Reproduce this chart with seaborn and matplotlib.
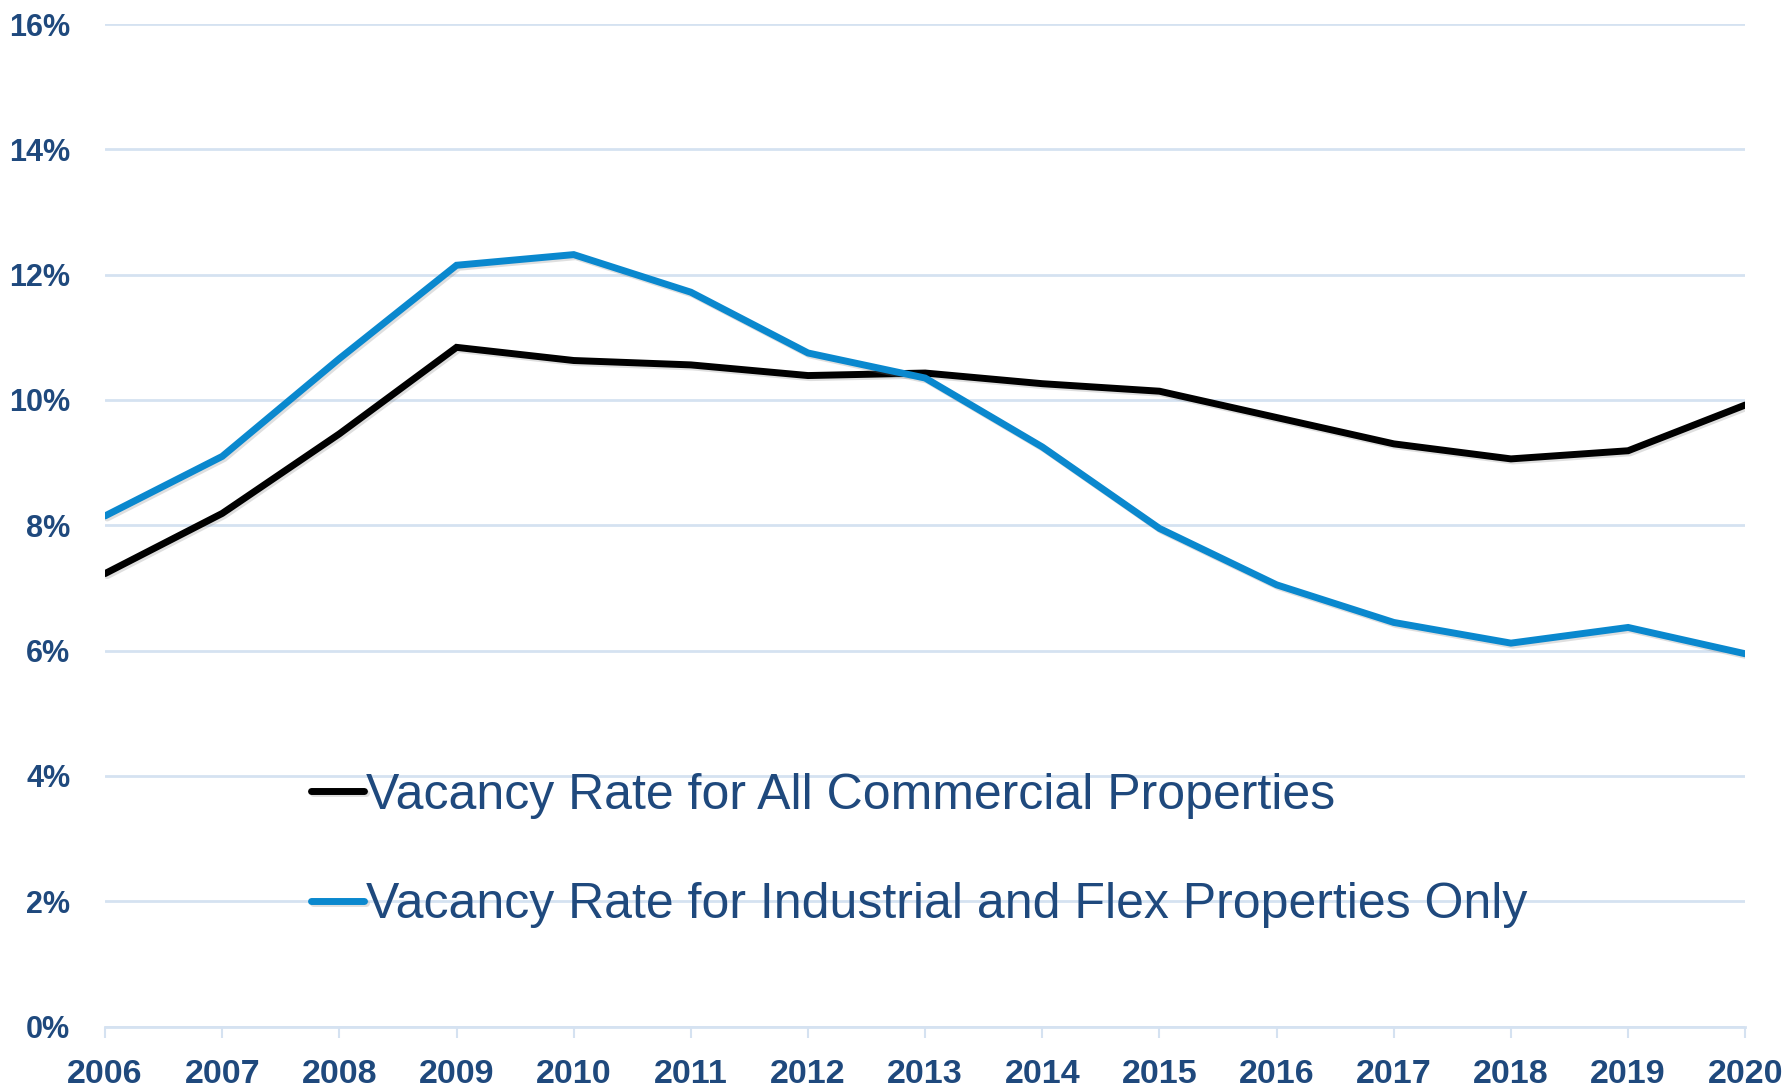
import numpy as np
import pandas as pd
import matplotlib
matplotlib.use("Agg")
import matplotlib.pyplot as plt
import matplotlib.patheffects as pe
import seaborn as sns

years = [2006, 2007, 2008, 2009, 2010, 2011, 2012, 2013, 2014, 2015, 2016, 2017, 2018, 2019, 2020]
all_commercial = [7.23, 8.19, 9.46, 10.84, 10.63, 10.56, 10.39, 10.43, 10.26, 10.14, 9.72, 9.30, 9.06, 9.19, 9.92]
industrial_flex = [8.15, 9.10, 10.66, 12.15, 12.32, 11.72, 10.75, 10.35, 9.25, 7.95, 7.05, 6.45, 6.12, 6.37, 5.95]
series_names = ["Vacancy Rate for All Commercial Properties",
                "Vacancy Rate for Industrial and Flex Properties Only"]
series_colors = ["#000000", "#0A88CE"]
y_ticks = [0, 2, 4, 6, 8, 10, 12, 14, 16]

df = pd.DataFrame({
    "year": years * 2,
    "rate": all_commercial + industrial_flex,
    "series": [series_names[0]] * len(years) + [series_names[1]] * len(years),
})

sns.set_theme(style="white")
plt.rcParams['font.family'] = ['Liberation Sans', 'DejaVu Sans']

text_color = "#1F497D"
grid_color = "#D5E2F1"

fig = plt.figure(figsize=(17.9, 10.91), dpi=100)
ax = fig.add_axes([0.0587, 0.059, 0.9163, 0.919])

sns.lineplot(data=df, x="year", y="rate", hue="series", hue_order=series_names,
             palette=series_colors, linewidth=5, ax=ax, legend=True)

for ln in ax.get_lines():
    ln.set_path_effects([pe.SimpleLineShadow(offset=(1.5, -1.5), alpha=0.25, shadow_color="gray"), pe.Normal()])
    ln.set_solid_joinstyle("miter")

ax.set_xlim(2006, 2020)
ax.set_ylim(0, 16)
ax.set_yticks(y_ticks)
ax.set_yticklabels([f"{v}%" for v in y_ticks])
ax.set_xticks(years)
ax.set_xticklabels([str(y) for y in years])
ax.yaxis.grid(True, color=grid_color, linewidth=2)
ax.xaxis.grid(False)
ax.set_axisbelow(True)
for s in ["top", "right", "left"]:
    ax.spines[s].set_visible(False)
ax.spines["bottom"].set_color(grid_color)
ax.spines["bottom"].set_linewidth(2)
ax.tick_params(axis="x", bottom=True, direction="out", length=8, width=1.5,
               color=grid_color, pad=15, labelsize=24.5, labelcolor=text_color)
ax.tick_params(axis="y", left=False, length=0, pad=25, labelsize=22, labelcolor=text_color)
for lab in ax.get_xticklabels() + ax.get_yticklabels():
    lab.set_fontweight("bold")
ax.set_xlabel("")
ax.set_ylabel("")

handles, labels = ax.get_legend_handles_labels()
leg = ax.legend(handles, labels, loc="upper left", bbox_to_anchor=(0.16, 0.3145),
                bbox_transform=fig.transFigure, frameon=False,
                prop={"family": ["Liberation Sans", "DejaVu Sans"], "size": 36},
                handlelength=1.05, handletextpad=0.05, labelspacing=1.27, borderpad=0)
for t in leg.get_texts():
    t.set_color(text_color)
for h in leg.get_lines():
    h.set_linewidth(5)
    h.set_solid_capstyle("round")

fig.savefig("out.png", dpi=100)
